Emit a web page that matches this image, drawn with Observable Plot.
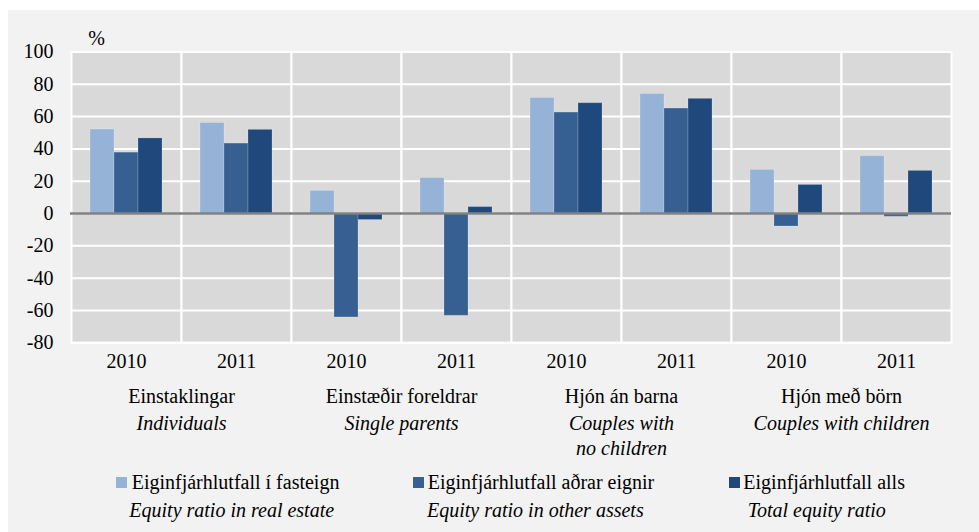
<!DOCTYPE html>
<html>
<head>
<meta charset="utf-8">
<script src="https://cdn.jsdelivr.net/npm/d3@7"></script>
<script src="https://cdn.jsdelivr.net/npm/@observablehq/plot@0.6"></script>
<style>
  html, body { margin: 0; padding: 0; background: #ffffff; }
  #wrap { position: absolute; left: 8px; top: 10px; width: 971px; height: 522px; background: #f2f2f2; overflow: hidden; color: #000; }
  #wrap svg { position: absolute; left: 0; top: 0; }
  .sw { position: absolute; width: 11px; height: 11px; }
  .lt { position: absolute; font-size: 20px; line-height: 20px; white-space: nowrap; }
</style>
</head>
<body>
<div id="wrap"></div>
<script>
// ---- data ----
const categoriesIs = ["Einstaklingar", "Einstæðir foreldrar", "Hjón án barna", "Hjón með börn"];
const categoriesEn = ["Individuals", "Single parents", "Couples with\nno children", "Couples with children"];
const years = ["2010", "2011"];
const seriesIs = ["Eiginfjárhlutfall í fasteign", "Eiginfjárhlutfall aðrar eignir", "Eiginfjárhlutfall alls"];
const seriesEn = ["Equity ratio in real estate", "Equity ratio in other assets", "Total equity ratio"];
const colors = ["#95b3d7", "#366092", "#1f497d"];
// order: Individuals 2010, 2011, Single parents 2010, 2011, Couples no children 2010, 2011, Couples with children 2010, 2011
const realEstate  = [52, 56, 14, 22, 71.5, 74, 27, 35.5];
const otherAssets = [37.7, 43.3, -64.3, -63.3, 62.5, 65, -8, -2];
const totalRatio  = [46.5, 51.8, -4, 4, 68.3, 71, 17.7, 26.4];
const yTicks = [-80, -60, -40, -20, 0, 20, 40, 60, 80, 100];

// ---- tables ----
const keys = [];
categoriesIs.forEach((c, i) => years.forEach(y => keys.push(i + "|" + y)));
const seriesValues = [realEstate, otherAssets, totalRatio];
const table = [];
keys.forEach((k, j) => seriesIs.forEach((s, si) => table.push({key: k, series: s, value: seriesValues[si][j]})));
const catTable = categoriesIs.map((c, i) => ({key: i + "|" + years[0], is: c, en: categoriesEn[i]}));

const font = "'Liberation Serif', 'Tinos', 'Times New Roman', Times, monospace";
const css = document.createElement("style");
css.textContent = "#wrap, #wrap * { font-family: " + font + " !important; }";
document.head.appendChild(css);

const chart = Plot.plot({
  width: 971,
  height: 450,
  marginLeft: 62,
  marginRight: 27,
  marginTop: 41.5,
  marginBottom: 117.7,
  style: {fontSize: "20px", background: "transparent", color: "#000", overflow: "visible"},
  fx: {domain: keys, padding: 0, axis: null},
  x: {domain: seriesIs, paddingInner: 0, paddingOuter: 0.75, axis: null},
  y: {domain: [-80, 100], axis: null},
  color: {domain: seriesIs, range: colors},
  marks: [
    Plot.frame({fill: "#d9d9d9", stroke: "white", strokeWidth: 2}),
    Plot.gridY(yTicks, {stroke: "white", strokeOpacity: 1, strokeWidth: 2}),
    Plot.barY(table, {fx: "key", x: "series", y: "value", fill: "series", stroke: "white", strokeOpacity: 0.18, strokeWidth: 1}),
    Plot.ruleY([0], {stroke: "#808080", strokeWidth: 2.5, insetLeft: -1}),
    Plot.axisY(yTicks, {tickSize: 0, tickPadding: 18, fontSize: 20, label: null, fill: "#000", tickFormat: d => String(d)}),
    Plot.axisFx({anchor: "bottom", tickSize: 0, tickPadding: 11, fontSize: 20, label: null, fill: "#000", tickFormat: k => k.split("|")[1]}),
    Plot.text(catTable, {fx: "key", text: "is", frameAnchor: "bottom", dx: 55, dy: 45.5, lineAnchor: "top", fontSize: 20, fill: "#000"}),
    Plot.text(catTable, {fx: "key", text: "en", frameAnchor: "bottom", dx: 55, dy: 69.8, lineAnchor: "top", lineHeight: 1.25, fontSize: 20, fontStyle: "italic", fill: "#000"}),
    Plot.text([keys[0]], {fx: d => d, text: () => "%", frameAnchor: "top-left", dx: 25, dy: -13.5, lineAnchor: "middle", textAnchor: "middle", fontSize: 20, fill: "#000"})
  ]
});
const wrap = document.getElementById("wrap");
wrap.appendChild(chart);

// ---- legend (HTML, below the SVG) ----
const swLeft = [108, 405, 721.3];
const txLeft = [123.7, 419.7, 735.3];
const itLeft = [121.3, 419, 739.7];
seriesIs.forEach((s, i) => {
  const sw = document.createElement("div");
  sw.className = "sw";
  sw.style.left = swLeft[i] + "px";
  sw.style.top = "466.7px";
  sw.style.background = colors[i];
  wrap.appendChild(sw);
  const t = document.createElement("div");
  t.className = "lt";
  t.style.left = txLeft[i] + "px";
  t.style.top = "461.5px";
  t.textContent = s;
  wrap.appendChild(t);
  const e = document.createElement("div");
  e.className = "lt";
  e.style.fontStyle = "italic";
  e.style.left = itLeft[i] + "px";
  e.style.top = "490px";
  e.textContent = seriesEn[i];
  wrap.appendChild(e);
});
wrap.querySelectorAll("*").forEach(el => el.style.setProperty("font-family", font, "important"));
</script>
</body>
</html>
